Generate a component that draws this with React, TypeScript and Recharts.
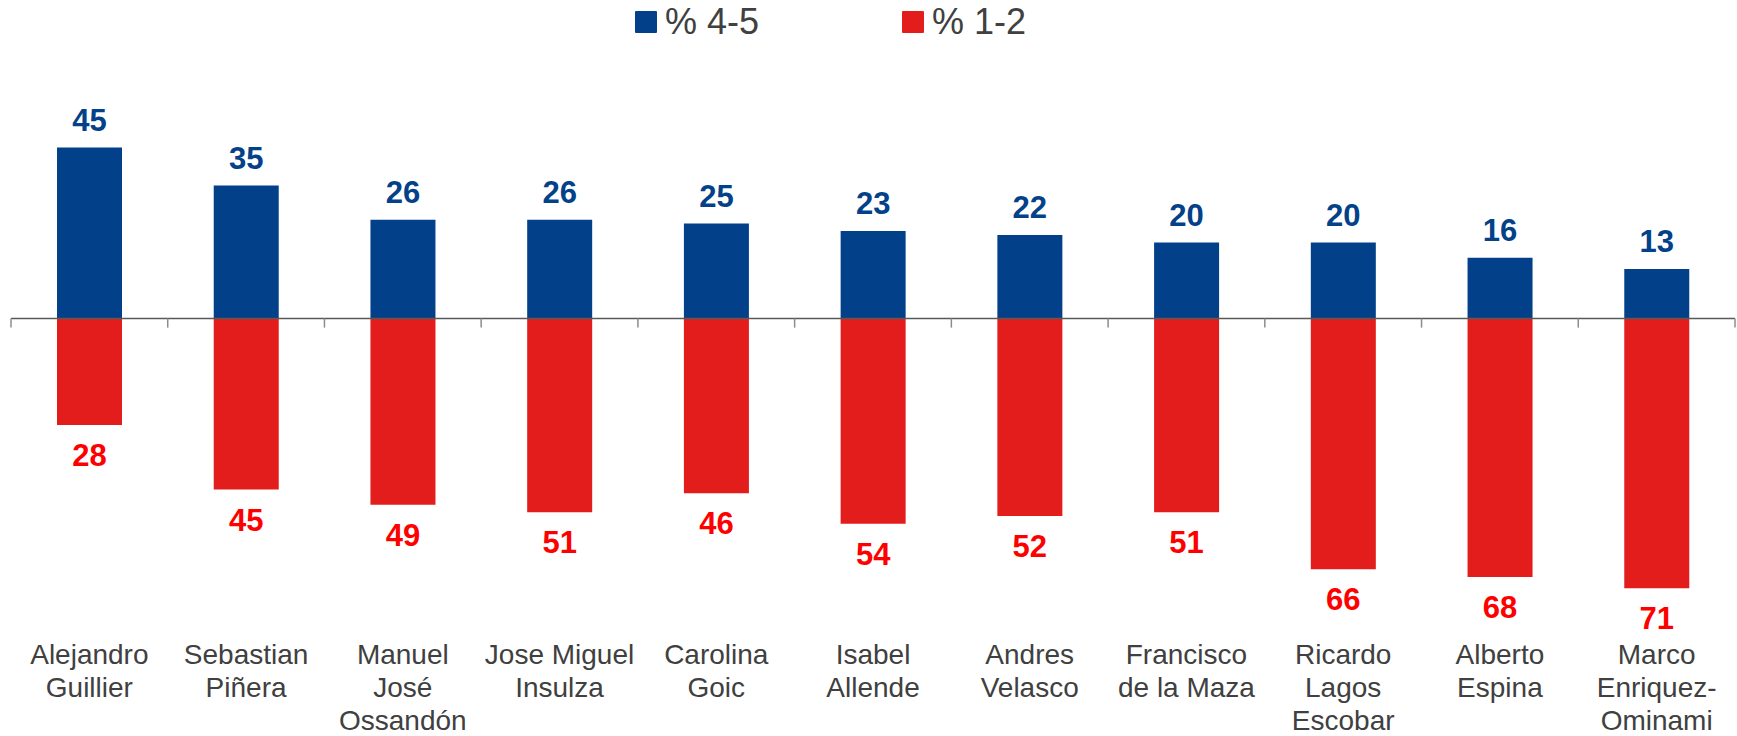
import { BarChart, Bar, XAxis, YAxis, Legend, LabelList, ReferenceLine } from "recharts";

const candidates = [
  "Alejandro\nGuillier",
  "Sebastian\nPiñera",
  "Manuel\nJosé\nOssandón",
  "Jose Miguel\nInsulza",
  "Carolina\nGoic",
  "Isabel\nAllende",
  "Andres\nVelasco",
  "Francisco\nde la Maza",
  "Ricardo\nLagos\nEscobar",
  "Alberto\nEspina",
  "Marco\nEnriquez-\nOminami",
];

const positive = [45, 35, 26, 26, 25, 23, 22, 20, 20, 16, 13];
const negative = [28, 45, 49, 51, 46, 54, 52, 51, 66, 68, 71];

const seriesNames = ["% 4-5", "% 1-2"];

const data = candidates.map((name, i) => ({
  name,
  high: positive[i],
  low: -negative[i],
}));

const FONT = '"Liberation Sans", Arial, sans-serif';

const CategoryTick = ({ x, y, payload }: any) => {
  const lines = String(payload.value).split("\n");
  return (
    <text x={x} y={y} textAnchor="middle" fill="#404040" fontSize={28} fontFamily={FONT}>
      {lines.map((line, i) => (
        <tspan key={i} x={x} dy={i === 0 ? 41 : 33}>
          {line}
        </tspan>
      ))}
    </text>
  );
};

const renderLegend = ({ payload }: any) => {
  const items = [...(payload || [])].sort(
    (a: any, b: any) => seriesNames.indexOf(a.value) - seriesNames.indexOf(b.value)
  );
  return (
    <div
      style={{
        display: "flex",
        alignItems: "center",
        height: 43,
        paddingLeft: 635,
        fontFamily: FONT,
        fontSize: 36,
        color: "#404040",
      }}
    >
      {items.map((entry: any) => (
        <div key={entry.value} style={{ display: "flex", alignItems: "center", marginRight: 143 }}>
          <span
            style={{
              display: "inline-block",
              width: 22,
              height: 22,
              background: entry.color,
              borderRadius: 1,
              marginRight: 8,
            }}
          />
          <span>{entry.value}</span>
        </div>
      ))}
    </div>
  );
};

const App = () => {
  return (
    <div style={{ width: 1737, height: 736 }}>
      <style>{"body{margin:0}"}</style>
      <BarChart
        width={1737}
        height={736}
        data={data}
        stackOffset="sign"
        margin={{ top: 85.5, right: 2, left: 11, bottom: 0 }}
      >
        <Legend
          verticalAlign="top"
          content={renderLegend}
          wrapperStyle={{ top: 0, left: 0, width: 1737, height: 43 }}
        />
        <XAxis
          dataKey="name"
          axisLine={false}
          tickLine={false}
          tickSize={0}
          tickMargin={0}
          interval={0}
          height={113.5}
          tick={<CategoryTick />}
        />
        <YAxis hide domain={[-80, 50]} />
        <ReferenceLine y={0} stroke="#595959" strokeWidth={1.5} />
        {candidates.map((c) => (
          <ReferenceLine
            key={c}
            segment={[
              { x: c, y: 0 },
              { x: c, y: -2.4 },
            ]}
            position="start"
            stroke="#8c8c8c"
            strokeWidth={1.5}
          />
        ))}
        <ReferenceLine
          segment={[
            { x: candidates[candidates.length - 1], y: 0 },
            { x: candidates[candidates.length - 1], y: -2.4 },
          ]}
          position="end"
          stroke="#8c8c8c"
          strokeWidth={1.5}
        />
        <Bar dataKey="high" name={seriesNames[0]} stackId="a" fill="#024189" barSize={65} isAnimationActive={false}>
          <LabelList
            dataKey="high"
            position="top"
            offset={17}
            fill="#034189"
            fontSize={31}
            fontWeight="bold"
            fontFamily={FONT}
          />
        </Bar>
        <Bar dataKey="low" name={seriesNames[1]} stackId="a" fill="#E31C1C" barSize={65} isAnimationActive={false}>
          <LabelList
            dataKey="low"
            position="top"
            offset={19}
            formatter={(v: any) => Math.abs(Number(v))}
            fill="#FF0000"
            fontSize={31}
            fontWeight="bold"
            fontFamily={FONT}
          />
        </Bar>
      </BarChart>
    </div>
  );
};

export default App;
